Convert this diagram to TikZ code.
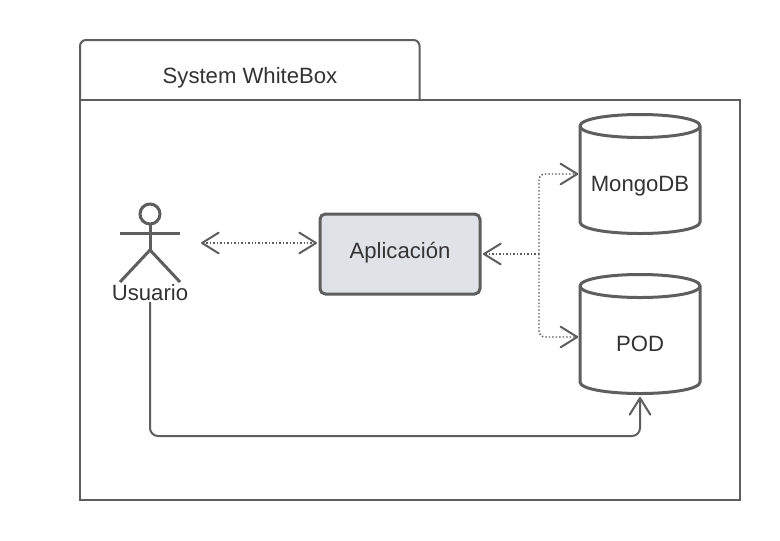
\documentclass[tikz,border=0pt]{standalone}
\usepackage{fontspec}
\setmainfont{Liberation Sans}
\usetikzlibrary{arrows.meta,calc}
\definecolor{linegray}{HTML}{5E5E5E}
\definecolor{textgray}{HTML}{333333}
\definecolor{boxfill}{HTML}{DFE3E8}
\tikzset{
  x=0.75pt,y=-0.75pt,
  every node/.style={font=\fontsize{16.6pt}{20pt}\selectfont,text=textgray,inner sep=0pt},
  frameline/.style={draw=linegray,line width=1.5pt,rounded corners=4.5pt},
  shapeline/.style={draw=linegray,line width=2.25pt,line join=round},
  actorline/.style={draw=linegray,line width=2.25pt},
  dotline/.style={draw=linegray,line width=1.1pt,dash pattern=on 1.1pt off 1.5pt,rounded corners=4.5pt},
  solidline/.style={draw=linegray,line width=1.5pt,rounded corners=6pt},
  dbtext/.style={minimum width=90pt,minimum height=88.5pt}
}
\begin{document}
\begin{tikzpicture}
\useasboundingbox (0,0) rectangle (780,540);
% package frame
\draw[frameline,fill=white] (80,100) -- (80,40) -- (419.5,40) -- (419.5,100);
\draw[draw=linegray,line width=1.5pt,fill=white] (80,100) rectangle (740,500);
\node[anchor=base] (tab) at (250,83) {System WhiteBox};
% application
\node[draw=linegray,line width=2.25pt,fill=boxfill,rounded corners=4pt,minimum width=120pt,minimum height=60pt] (app) at (400,254) {};
\node[anchor=base] at (400,258) {Aplicación};
% databases
\foreach \nm/\cy/\lab/\by in {mongo/174/MongoDB/191,pod/334/POD/351}{
  \node[dbtext] (\nm) at (640,\cy) {};
  \draw[shapeline,fill=white]
    (580,\cy-48) .. controls (580,\cy-55) and (608,\cy-59.5) .. (640,\cy-59.5)
    .. controls (672,\cy-59.5) and (700,\cy-55) .. (700,\cy-48)
    -- (700,\cy+48) .. controls (700,\cy+55) and (672,\cy+59.5) .. (640,\cy+59.5)
    .. controls (608,\cy+59.5) and (580,\cy+55) .. (580,\cy+48) -- cycle;
  \draw[shapeline]
    (580,\cy-48) .. controls (580,\cy-41) and (608,\cy-36.5) .. (640,\cy-36.5)
    .. controls (672,\cy-36.5) and (700,\cy-41) .. (700,\cy-48);
  \node[anchor=base] at (640,\by) {\lab};
}
% actor
\node[anchor=base] (user) at (150,300) {Usuario};
\coordinate (head) at (150,214);
\draw[actorline] (head) circle[radius=7.5pt];
\draw[actorline] (150,224) -- (150,250);
\draw[actorline] (120,233) -- (180,233);
\draw[actorline] (120,282) -- (150,250) -- (180,282);
% connectors
\coordinate (userright) at (201,243);
\coordinate (appleft) at ($(app.west)+(-1.5,-11)$);
\draw[dotline,{Straight Barb[length=12.5pt,width=15.5pt,line width=1.5pt,round]}-{Straight Barb[length=12.5pt,width=15.5pt,line width=1.5pt,round]}] (userright) -- (appleft);
\coordinate (junction) at (539,254);
\coordinate (appright) at ($(app.east)+(1.5,0)$);
\draw[dotline,-{Straight Barb[length=12.5pt,width=15.5pt,line width=1.5pt,round]}] (junction) -- (appright);
\draw[dotline,-{Straight Barb[length=12.5pt,width=15.5pt,line width=1.5pt,round]}] (junction) |- ($(mongo.west)+(-1.5,0)$);
\draw[dotline,-{Straight Barb[length=12.5pt,width=15.5pt,line width=1.5pt,round]}] (junction) |- ($(pod.west)+(-1.5,3)$);
\coordinate (podbottom) at (640,397);
\coordinate (userbottom) at (150,302);
\draw[solidline,-{Straight Barb[length=12.5pt,width=15.5pt,line width=1.5pt,round]}] (userbottom) -- (150,436) -- (640,436) -- (podbottom);
\end{tikzpicture}
\end{document}
